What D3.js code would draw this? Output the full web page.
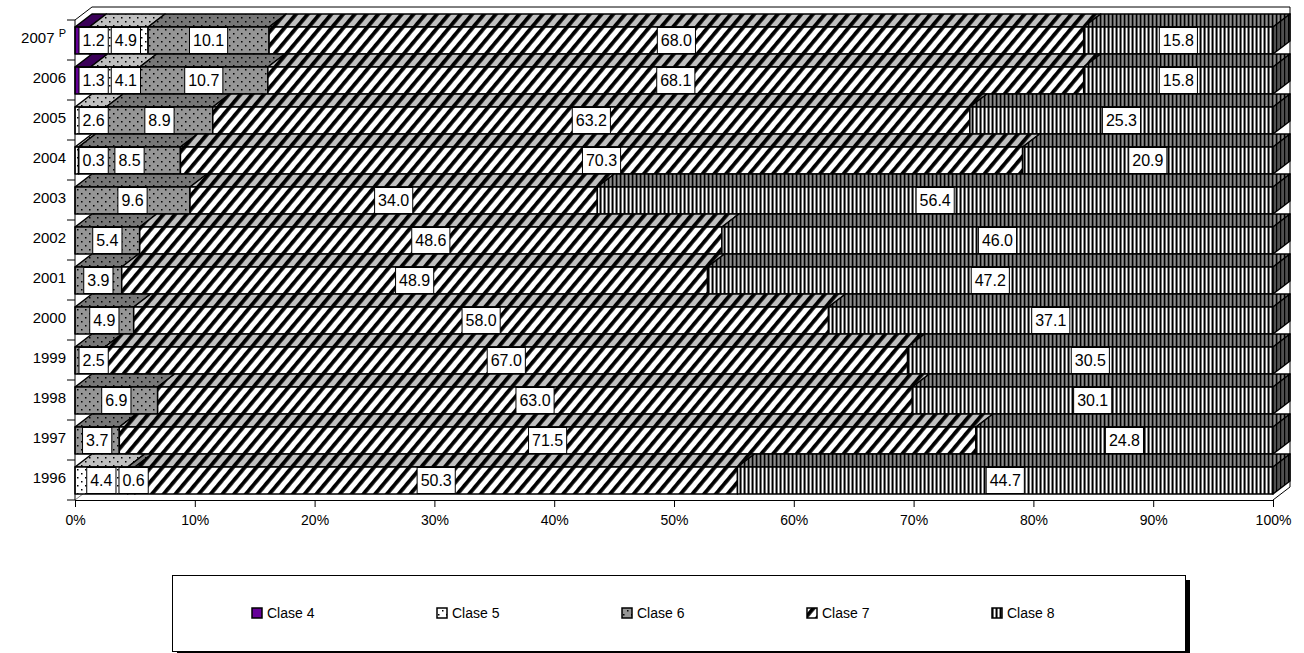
<!DOCTYPE html>
<html>
<head>
<meta charset="utf-8">
<script src="https://cdn.jsdelivr.net/npm/d3@7"></script>
<style>
  body { margin: 0; background: #fff; }
  svg { font-family: "Liberation Sans", Arial, sans-serif; }
</style>
</head>
<body>
<div id="chart"></div>
<script>
// values per year, top row first (2007 provisional)
var years = ["2007", "2006", "2005", "2004", "2003", "2002", "2001", "2000", "1999", "1998", "1997", "1996"]
var clase4 = [1.2, 1.3, 0, 0, 0, 0, 0, 0, 0, 0, 0, 0]
var clase5 = [4.9, 4.1, 2.6, 0.3, 0, 0, 0, 0, 0, 0, 0, 4.4]
var clase6 = [10.1, 10.7, 8.9, 8.5, 9.6, 5.4, 3.9, 4.9, 2.5, 6.9, 3.7, 0.6]
var clase7 = [68.0, 68.1, 63.2, 70.3, 34.0, 48.6, 48.9, 58.0, 67.0, 63.0, 71.5, 50.3]
var clase8 = [15.8, 15.8, 25.3, 20.9, 56.4, 46.0, 47.2, 37.1, 30.5, 30.1, 24.8, 44.7]
var seriesNames = ["Clase 4", "Clase 5", "Clase 6", "Clase 7", "Clase 8"]
var xTicks = [0, 0.1, 0.2, 0.3, 0.4, 0.5, 0.6, 0.7, 0.8, 0.9, 1]

var width = 1304, height = 653
var dx = 17, dy = 13   // depth offset of the 3d box

var rows = years.map(function (y, i) {
  return { year: y, "Clase 4": clase4[i], "Clase 5": clase5[i], "Clase 6": clase6[i], "Clase 7": clase7[i], "Clase 8": clase8[i] }
})

var stack = d3.stack().keys(seriesNames).offset(d3.stackOffsetExpand)
var series = stack(rows)

var x = d3.scaleLinear().domain([0, 1]).range([75, 1273])
var y = d3.scaleBand().domain(years).range([20, 500]).padding(0)

var svg = d3.select("#chart").append("svg")
  .attr("width", width)
  .attr("height", height)

var defs = svg.append("defs")

function dots(id, bg) {
  var p = defs.append("pattern").attr("id", id)
    .attr("patternUnits", "userSpaceOnUse").attr("width", 8).attr("height", 8)
  p.append("rect").attr("width", 8).attr("height", 8).attr("fill", bg)
  p.append("rect").attr("x", 1).attr("y", 1).attr("width", 1.5).attr("height", 1.5).attr("fill", "#000")
  p.append("rect").attr("x", 5).attr("y", 5).attr("width", 1.5).attr("height", 1.5).attr("fill", "#000")
}
function stripes(id, bg) {
  var p = defs.append("pattern").attr("id", id)
    .attr("patternUnits", "userSpaceOnUse").attr("width", 9).attr("height", 9)
    .attr("patternTransform", "rotate(40)")
  p.append("rect").attr("width", 9).attr("height", 9).attr("fill", bg)
  p.append("rect").attr("width", 3.8).attr("height", 9).attr("fill", "#000")
}
function vlines(id, bg, light) {
  var p = defs.append("pattern").attr("id", id)
    .attr("patternUnits", "userSpaceOnUse").attr("width", 4).attr("height", 4)
  p.append("rect").attr("width", 4).attr("height", 4).attr("fill", bg)
  p.append("rect").attr("x", 0).attr("width", 1.2).attr("height", 4).attr("fill", "#000")
  if (light) p.append("rect").attr("x", 2).attr("width", 1).attr("height", 4).attr("fill", light)
}

dots("c5f", "#ffffff"); dots("c5t", "#c0c0c0")
dots("c6f", "#969696"); dots("c6t", "#777777")
stripes("c7f", "#ffffff"); stripes("c7t", "#c0c0c0")
vlines("c8f", "#8a8a8a", "#ffffff"); vlines("c8t", "#666666", "#8c8c8c"); vlines("c8s", "#505050", null)

var fills = {
  "Clase 4": { front: "#660099", top: "#3a0058", side: "#3a0058" },
  "Clase 5": { front: "url(#c5f)", top: "url(#c5t)", side: "url(#c5t)" },
  "Clase 6": { front: "url(#c6f)", top: "url(#c6t)", side: "url(#c6t)" },
  "Clase 7": { front: "url(#c7f)", top: "url(#c7t)", side: "url(#c7t)" },
  "Clase 8": { front: "url(#c8f)", top: "url(#c8t)", side: "url(#c8s)" }
}

// back walls
var walls = svg.append("g").attr("fill", "none").attr("stroke", "#000").attr("stroke-width", 1)
walls.append("path").attr("d",
  "M" + x(0) + "," + y.range()[0] + " L" + (x(0) + dx) + "," + (y.range()[0] - dy) +
  " L" + (x(1) + dx) + "," + (y.range()[0] - dy) + " L" + (x(1) + dx) + "," + (y.range()[1] - dy) +
  " L" + x(1) + "," + y.range()[1])
walls.append("path").attr("stroke", "#808080").attr("d",
  "M" + x(0) + "," + y.range()[1] + " L" + (x(0) + dx) + "," + (y.range()[1] - dy))

// bars
var frontTop = 7, frontH = y.bandwidth() - dy
var bars = svg.append("g").attr("stroke", "#000").attr("stroke-width", 1.5).attr("stroke-linejoin", "round")

years.forEach(function (yr, i) {
  var g = bars.append("g")
  var y1 = y(yr) + frontTop, y2 = y1 + frontH
  var segs = series.map(function (s) { return { key: s.key, x0: s[i][0], x1: s[i][1], v: s[i].data[s.key] } })
    .filter(function (d) { return d.v > 0 })
  segs.forEach(function (d, k) {
    var a = x(d.x0), b = x(d.x1)
    g.append("path")
      .attr("fill", fills[d.key].top)
      .attr("d", "M" + a + "," + y1 + " L" + (a + dx) + "," + (y1 - dy) + " L" + (b + dx) + "," + (y1 - dy) + " L" + b + "," + y1 + "Z")
    g.append("rect")
      .attr("x", a).attr("y", y1).attr("width", b - a).attr("height", frontH)
      .attr("fill", fills[d.key].front)
    if (k === segs.length - 1) {
      g.append("path")
        .attr("fill", fills[d.key].side)
        .attr("d", "M" + b + "," + y1 + " L" + (b + dx) + "," + (y1 - dy) + " L" + (b + dx) + "," + (y2 - dy) + " L" + b + "," + y2 + "Z")
    }
  })
})

// axes
var xAxis = svg.append("g")
  .attr("transform", "translate(0," + y.range()[1] + ")")
  .call(d3.axisBottom(x).tickValues(xTicks).tickSize(7).tickSizeOuter(0).tickFormat(d3.format(".0%")))
xAxis.select(".domain").attr("stroke", "#000")
xAxis.selectAll("text").attr("font-size", 14).attr("fill", "#000").attr("dy", "1.05em")
xAxis.selectAll("line").attr("stroke", "#000")

var yAxis = svg.append("g")
yAxis.append("line").attr("x1", x(0)).attr("x2", x(0)).attr("y1", y.range()[0]).attr("y2", y.range()[1]).attr("stroke", "#000")
yAxis.selectAll(".tk").data(d3.range(years.length + 1)).enter().append("line")
  .attr("x1", x(0) - 8).attr("x2", x(0))
  .attr("y1", function (k) { return y.range()[0] + k * y.step() })
  .attr("y2", function (k) { return y.range()[0] + k * y.step() })
  .attr("stroke", "#000")
var ylab = yAxis.selectAll(".yl").data(years).enter().append("text")
  .attr("x", 66)
  .attr("y", function (d) { return y(d) + y.bandwidth() / 2 - 2 })
  .attr("dy", "0.35em")
  .attr("text-anchor", "end")
  .attr("font-size", 15)
  .text(function (d) { return d })
ylab.filter(function (d, i) { return i === 0 }).text("2007 ")
  .append("tspan").attr("font-size", 11).attr("dy", "-0.55em").text("P")

// value labels
var labels = svg.append("g").attr("font-size", 16)
years.forEach(function (yr, i) {
  var cy = y(yr) + frontTop + frontH / 2
  var prevRight = -Infinity
  series.forEach(function (s) {
    var v = s[i].data[s.key]
    if (!(v > 0)) return
    var lg = labels.append("g")
    var t = lg.append("text").attr("text-anchor", "middle").attr("dy", "0.36em").text(d3.format(".1f")(v))
    var w = t.node().getComputedTextLength() + 7
    var cx = x((s[i][0] + s[i][1]) / 2)
    var left = Math.max(cx - w / 2, x(0) + 4)
    if (left < prevRight + 3) left = prevRight + 3
    prevRight = left + w
    t.attr("x", left + w / 2).attr("y", cy)
    lg.insert("rect", "text").attr("x", left).attr("y", cy - 13).attr("width", w).attr("height", 26)
      .attr("fill", "#fff").attr("stroke", "#000").attr("stroke-width", 1)
  })
})

// legend
var lgd = svg.append("g")
lgd.append("rect").attr("x", 177).attr("y", 580).attr("width", 1013).attr("height", 76).attr("fill", "#000")
lgd.append("rect").attr("x", 172.5).attr("y", 575.5).attr("width", 1013).attr("height", 76)
  .attr("fill", "#fff").attr("stroke", "#000").attr("stroke-width", 1)
var lx = d3.scalePoint().domain(seriesNames).range([252, 992])
var item = lgd.selectAll(".it").data(seriesNames).enter().append("g")
  .attr("transform", function (d) { return "translate(" + lx(d) + ",613)" })
item.append("rect").attr("x", 0).attr("y", -5).attr("width", 10).attr("height", 10)
  .attr("fill", function (d) { return fills[d].front }).attr("stroke", "#000").attr("stroke-width", 1.5)
item.append("text").attr("x", 15).attr("dy", "0.36em").attr("font-size", 14).text(function (d) { return d })
</script>
</body>
</html>
